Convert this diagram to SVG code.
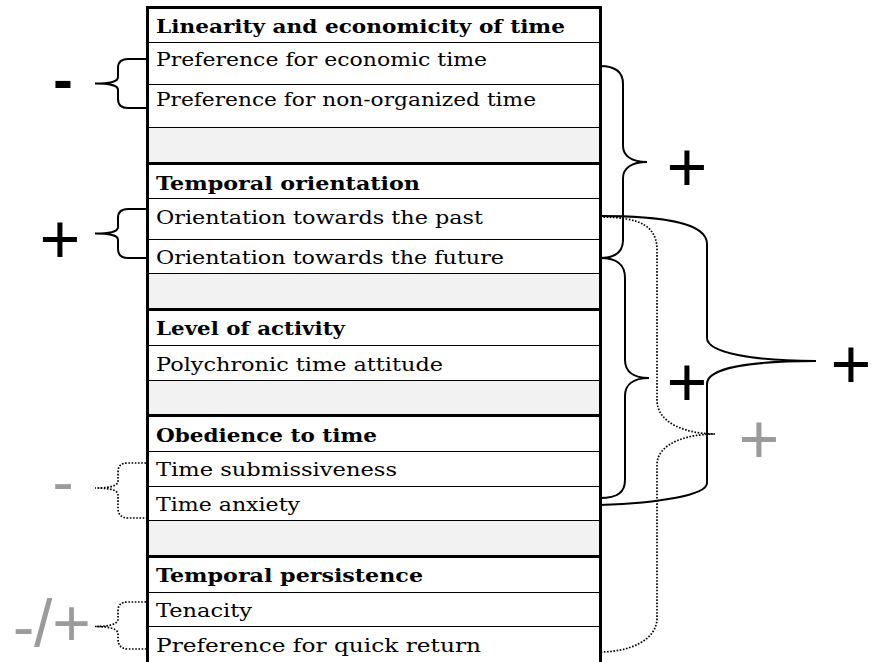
<svg xmlns="http://www.w3.org/2000/svg" width="872" height="662" viewBox="0 0 872 662">
<style>
.cell{font-family:"DejaVu Serif","Liberation Serif",serif;font-size:19px;fill:#000}
.hd{font-weight:bold}
.thin{stroke:#000;stroke-width:1;fill:none}
.thick{stroke:#000;stroke-width:3;fill:none}
.shade{fill:#f2f2f2}
.brace{stroke:#000;stroke-width:2;fill:none}
.dot{stroke:#000;stroke-width:1.7;fill:none;stroke-dasharray:1.6 1.6}
.plus{font-family:"Liberation Sans",Arial,sans-serif;font-size:70px;text-anchor:middle;fill:#000}
.gray{fill:#9b9b9b}
.minus{font-family:"DejaVu Sans",sans-serif;text-anchor:middle}
</style>
<rect width="872" height="662" fill="#fff"/>
<g id="table">
  <rect class="shade" x="147.5" y="127" width="453" height="36.5"/>
  <rect class="shade" x="147.5" y="273.5" width="453" height="36"/>
  <rect class="shade" x="147.5" y="380" width="453" height="35.5"/>
  <rect class="shade" x="147.5" y="520.5" width="453" height="36"/>
  <g id="thin-lines">
    <path class="thin" d="M147.5,42.5H600.5M147.5,84.5H600.5M147.5,127.5H600.5M147.5,198.5H600.5M147.5,239.5H600.5M147.5,273.5H600.5M147.5,345.5H600.5M147.5,380.5H600.5M147.5,451.5H600.5M147.5,486.5H600.5M147.5,520.5H600.5M147.5,592.5H600.5M147.5,626.5H600.5"/>
  </g>
  <g id="thick-lines">
    <path class="thick" d="M146,7.5H602M147.5,163.5H600.5M147.5,309.5H600.5M147.5,415.5H600.5M147.5,556.5H600.5M147.5,6V662M600.5,6V662"/>
  </g>
  <g id="row-linearity"><text class="cell hd" x="156" y="33" textLength="409" lengthAdjust="spacingAndGlyphs">Linearity and economicity of time</text></g>
  <g id="row-pref-economic"><text class="cell" x="156" y="66" textLength="331" lengthAdjust="spacingAndGlyphs">Preference for economic time</text></g>
  <g id="row-pref-nonorganized"><text class="cell" x="156" y="105.5" textLength="380" lengthAdjust="spacingAndGlyphs">Preference for non-organized time</text></g>
  <g id="row-temporal-orientation"><text class="cell hd" x="156" y="190" textLength="264" lengthAdjust="spacingAndGlyphs">Temporal orientation</text></g>
  <g id="row-past"><text class="cell" x="156" y="224" textLength="327" lengthAdjust="spacingAndGlyphs">Orientation towards the past</text></g>
  <g id="row-future"><text class="cell" x="156" y="264" textLength="348" lengthAdjust="spacingAndGlyphs">Orientation towards the future</text></g>
  <g id="row-activity"><text class="cell hd" x="156" y="335" textLength="189" lengthAdjust="spacingAndGlyphs">Level of activity</text></g>
  <g id="row-polychronic"><text class="cell" x="156" y="371" textLength="287" lengthAdjust="spacingAndGlyphs">Polychronic time attitude</text></g>
  <g id="row-obedience"><text class="cell hd" x="156" y="442" textLength="221" lengthAdjust="spacingAndGlyphs">Obedience to time</text></g>
  <g id="row-submissiveness"><text class="cell" x="156" y="475.5" textLength="241" lengthAdjust="spacingAndGlyphs">Time submissiveness</text></g>
  <g id="row-anxiety"><text class="cell" x="156" y="510.5" textLength="144" lengthAdjust="spacingAndGlyphs">Time anxiety</text></g>
  <g id="row-persistence"><text class="cell hd" x="156" y="582" textLength="267" lengthAdjust="spacingAndGlyphs">Temporal persistence</text></g>
  <g id="row-tenacity"><text class="cell" x="156" y="616.5" textLength="96" lengthAdjust="spacingAndGlyphs">Tenacity</text></g>
  <g id="row-quick-return"><text class="cell" x="156" y="652" textLength="325" lengthAdjust="spacingAndGlyphs">Preference for quick return</text></g>
</g>
<g id="connectors">
  <path class="brace" d="M146,59 L128,59 C121,59 118,62 118,68 L118,77 C118,81 113,83.5 95,83.5 C113,83.5 118,86 118,90 L118,99 C118,105 121,108 128,108 L146,108"/>
  <path class="brace" d="M146,209 L128,209 C121,209 118,212 118,218 L118,227 C118,231 113,233.5 95,233.5 C113,233.5 118,236 118,240 L118,249 C118,255 121,258 128,258 L146,258"/>
  <path class="dot" d="M146,463 L128,463 C121,463 118,466 118,472 L118,481 C118,485 113,488 95,488 C113,488 118,491 118,495 L118,508 C118,514 121,518 128,518 L146,518"/>
  <path class="dot" d="M146,602 L128,602 C121,602 118,605 118,611 L118,619 C118,623 113,626.5 95,626.5 C113,626.5 118,630 118,634 L118,639 C118,645 121,649 128,649 L146,649"/>
  <path class="brace" d="M600,66 C616,66 623,72 623,84 L623,146 C623,156 632,162 647,162 C632,162 623,168 623,178 L623,240 C623,252 616,258 600,258"/>
  <path class="brace" d="M600,258 C618,258 625,265 625,278 L625,360 C625,372 634,378 649,378 C634,378 625,384 625,396 L625,480 C625,492 618,498 600,498"/>
  <path class="brace" d="M600,216 C660,216 707,222 707,244 L707,338 C707,352 750,361 816,361 C750,361 707,368 707,384 L707,483 C707,495 660,503 600,505"/>
  <path class="dot" d="M600,217 C640,217 657,226 657,250 L657,400 C657,425 690,434 715,434 C690,434 657,442 657,465 L657,618 C657,640 630,652 600,652"/>
</g>
<g id="labels">
  <g id="label-minus-1"><text class="minus" x="63" y="99" font-size="49" font-weight="bold">-</text></g>
  <g id="label-plus-1"><text class="plus" x="60" y="263">+</text></g>
  <g id="label-minus-2"><text class="minus gray" x="63" y="503" font-size="60">-</text></g>
  <g id="label-minus-plus"><text class="gray"><tspan class="minus" x="23.5" y="647.5" font-size="60">-</tspan><tspan x="34" y="646" font-family="Liberation Sans, sans-serif" font-size="66">/+</tspan></text></g>
  <g id="label-plus-2"><text class="plus" x="687" y="190.7">+</text></g>
  <g id="label-plus-3"><text class="plus" x="687" y="405.7">+</text></g>
  <g id="label-plus-4"><text class="plus" x="851" y="387.5" font-size="64">+</text></g>
  <g id="label-plus-5"><text class="plus gray" x="759" y="462.7">+</text></g>
</g>
</svg>
